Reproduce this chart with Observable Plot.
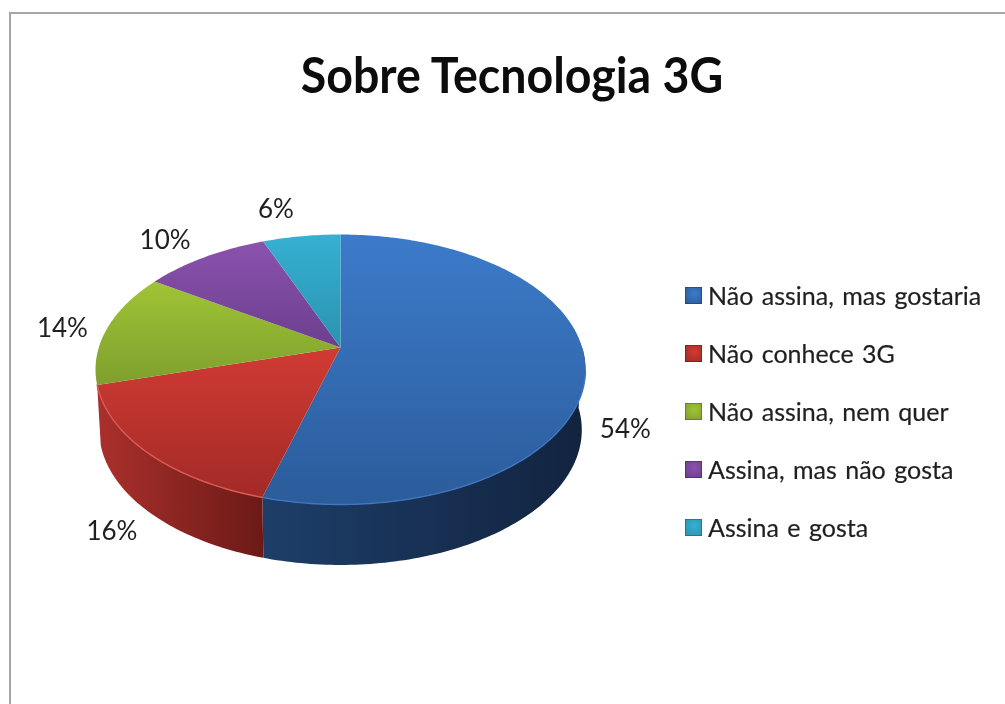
<!DOCTYPE html>
<html lang="pt">
<head>
<meta charset="utf-8">
<script src="https://cdn.jsdelivr.net/npm/d3@7"></script>
<script src="https://cdn.jsdelivr.net/npm/@observablehq/plot@0.6"></script>
<style>
  html,body{margin:0;padding:0;background:#fff;width:1005px;height:704px;overflow:hidden;font-family:Lato,"Open Sans",sans-serif}
  #frame{position:absolute;left:9px;top:12px;width:1000px;height:700px;border-left:2px solid #a6a6a6;border-top:2px solid #a6a6a6;box-sizing:border-box}
  h1{position:absolute;left:2px;width:1020px;top:40px;margin:0;text-align:center;font:700 46.5px/68px Lato,sans-serif;color:#0c0c0c;transform:scaleY(1.08);transform-origin:50% 50%;filter:blur(.4px)}
  #chart{position:absolute;left:0;top:130px}
  #chart svg{display:block;overflow:visible}
  #chart svg g[aria-label="line"]{filter:blur(.6px)}
  #chart svg g[aria-label="text"]{filter:blur(.4px)}
  #legend{position:absolute;left:685px;top:266px;margin:0;padding:0;list-style:none;filter:blur(.4px)}
  #legend li{display:flex;align-items:center;height:58px;font-size:25px;word-spacing:2px;color:#1f1f1f;white-space:nowrap;-webkit-text-stroke:.2px #1f1f1f}
  #legend i{display:block;width:17px;height:17px;margin-right:6px;box-shadow:inset 0 0 0 1px rgba(0,0,0,.22)}
</style>
</head>
<body>
<div id="frame"></div>
<h1 id="title"></h1>
<div id="chart"></div>
<ul id="legend"></ul>
<script>
const chartTitle = "Sobre Tecnologia 3G";
const categories = ["Não assina, mas gostaria", "Não conhece 3G", "Não assina, nem quer", "Assina, mas não gosta", "Assina e gosta"];
const percents = [54.4, 16.2, 13.6, 9.8, 6.0];
const topLight = ["#3c7bca", "#d03b33", "#a0c435", "#8b52ae", "#36b0d2"];
const topDark = ["#2b5c9b", "#a32a27", "#7f9f2e", "#6b3f8e", "#2a93b0"];
const wallLight = ["#1d3e69", "#aa302c"];
const wallDark = ["#12233f", "#6c1a17"];
const rimColors = ["#3f76bc", "#dc5a54"];
const labelDx = [-7, 5, 2, -1, 3];
const labelDy = [1, 6, 5, 5, 1];

// Perspective of the tilted disc, in units of its radius
const tilt = 0.163;
const wallDepth = 0.46;
const wallShrink = 0.985;
const project = (deg, r = 1) => {
  const a = deg * Math.PI / 180, X = r * Math.sin(a), Y = r * Math.cos(a), k = 1 + tilt * Y;
  return {u: X / k, v: Y / k, X, Y};
};
const arc = (a0, a1) => d3.range(a0, a1, 1).concat(a1).map((a) => project(a));

let cumulative = 0;
const slices = categories.map((name, i) => {
  const start = cumulative * 3.6;
  cumulative += percents[i];
  return {name, pct: percents[i], start, end: cumulative * 3.6, i};
});

const wedge = (s) => [{u: 0, v: 0}, ...arc(s.start, s.end)];
const wall = (s) => {
  const a0 = Math.max(s.start, 90), upper = arc(a0, s.end);
  const lower = upper.slice().reverse().map((p) => ({u: p.u * wallShrink, v: p.v - wallDepth}));
  return [...upper, ...lower];
};
const labels = slices.map((s) => {
  const p = project((s.start + s.end) / 2);
  const sx = Math.sign(p.X);
  return {
    text: Math.round(s.pct) + "%",
    u: p.u + sx * 0.1 + p.X * 0.095,
    v: p.v + (p.Y > 0 ? p.Y * 0.21 : -0.46 + p.Y * 0.14)
  };
});

const grad = (id, x2, y2, c0, c1) =>
  `<linearGradient id="${id}" x1="0" y1="0" x2="${x2}" y2="${y2}"><stop offset="0" stop-color="${c0}"/><stop offset="1" stop-color="${c1}"/></linearGradient>`;

const defsMark = () => {
  const g = document.createElementNS("http://www.w3.org/2000/svg", "defs");
  g.innerHTML =
    topLight.map((c, i) => grad("top" + i, 0, 1, c, topDark[i])).join("") +
    wallLight.map((c, i) => grad("wall" + i, 1, 0, c, wallDark[i])).join("");
  return g;
};

const frontSlices = slices.slice(0, 2);
const W = 670, H = 500;
const plot = Plot.plot({
  width: W, height: H, margin: 0,
  style: {background: "transparent", overflow: "visible"},
  x: {axis: null, domain: [-340 / 241.7, (W - 340) / 241.7], range: [0, W]},
  y: {axis: null, domain: [217 / 131.4, (217 - H) / 131.4], range: [0, H]},
  marks: [
    defsMark,
    ...frontSlices.map((s) => Plot.line(wall(s), {x: "u", y: "v", fill: `url(#wall${s.i})`, stroke: "none"})),
    ...slices.map((s) => Plot.line(wedge(s), {x: "u", y: "v", fill: `url(#top${s.i})`, stroke: "none"})),
    ...frontSlices.map((s) => Plot.line(arc(Math.max(s.start, 100), s.end), {x: "u", y: "v", stroke: rimColors[s.i], strokeWidth: 1.4})),
    ...labels.map((l, i) => Plot.text([l], {x: "u", y: "v", text: "text", dx: labelDx[i], dy: labelDy[i], fontSize: 26, fill: "#1f1f1f", fontFamily: "Lato, sans-serif"}))
  ]
});
document.getElementById("chart").append(plot);
document.getElementById("title").textContent = chartTitle;
const legend = document.getElementById("legend");
categories.forEach((name, i) => {
  const li = document.createElement("li");
  const sw = document.createElement("i");
  sw.style.background = `radial-gradient(circle at 55% 40%, ${topLight[i]}, ${topDark[i]} 90%)`;
  li.append(sw, name);
  legend.append(li);
});
</script>
</body>
</html>
